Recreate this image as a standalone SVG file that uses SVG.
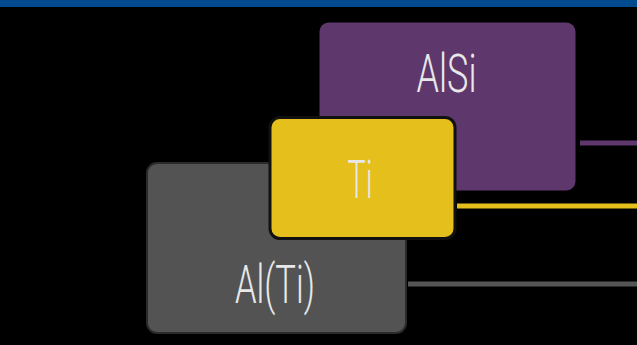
<svg xmlns="http://www.w3.org/2000/svg" width="637" height="345" viewBox="0 0 637 345">
  <style>
    .lbl { font-family: Roboto, "Liberation Sans", Arial, sans-serif; font-weight: 300; font-size: 53px; fill: #e8e8e8; text-anchor: middle; }
    .conn { fill: none; }
  </style>
  <rect x="0" y="0" width="637" height="345" fill="#000000"/>
  <rect x="0" y="0" width="637" height="7" fill="#004a8f"/>
  <g id="connectors">
    <line class="conn" x1="580" y1="143" x2="637" y2="143" stroke="#5e376c" stroke-width="5"/>
    <line class="conn" x1="457" y1="206" x2="637" y2="206" stroke="#e5bf1b" stroke-width="5"/>
    <line class="conn" x1="408" y1="284" x2="637" y2="284" stroke="#555555" stroke-width="5"/>
  </g>
  <g id="node-alsi">
    <rect x="319.5" y="22.5" width="256" height="168" rx="9" fill="#5e376c"/>
    <text class="lbl" x="446.5" y="92" textLength="60" lengthAdjust="spacingAndGlyphs">AlSi</text>
  </g>
  <g id="node-alti">
    <rect x="147" y="163" width="259" height="170" rx="10" fill="#535353" stroke="#2b2b2b" stroke-width="2"/>
    <text class="lbl" x="275" y="303" font-size="50" textLength="80" lengthAdjust="spacingAndGlyphs">Al(Ti)</text>
  </g>
  <g id="node-ti">
    <rect x="270" y="117.5" width="185" height="121" rx="10" fill="#e5bf1b" stroke="#111111" stroke-width="3"/>
    <text class="lbl" x="360" y="198" textLength="25" lengthAdjust="spacingAndGlyphs">Ti</text>
  </g>
</svg>
